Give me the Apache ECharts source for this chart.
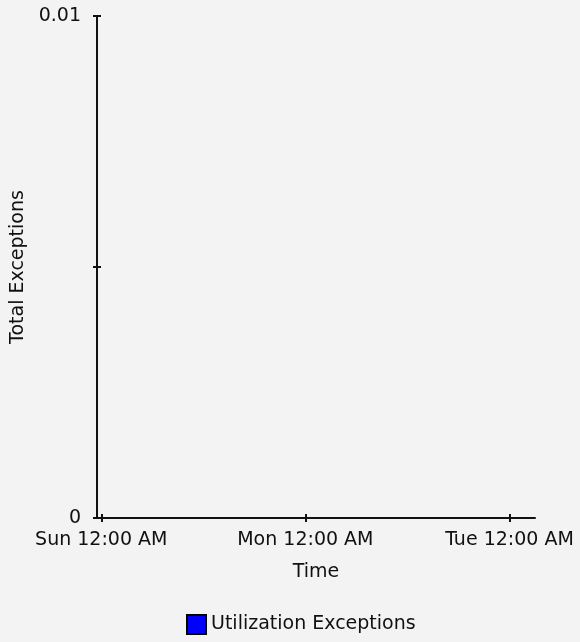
<!DOCTYPE html>
<html>
<head>
<meta charset="utf-8">
<script src="https://cdn.jsdelivr.net/npm/echarts@6/dist/echarts.min.js"></script>
<style>
  html, body { margin: 0; padding: 0; background: #f3f3f3; }
  #chart { width: 580px; height: 642px; }
</style>
</head>
<body>
<div id="chart"></div>
<script>
// x positions in hours from Sunday 12:00 AM
const tickHours = [0, 24, 48]
const tickLabels = ['Sun 12:00 AM', 'Mon 12:00 AM', 'Tue 12:00 AM']
const yTicks = [0, 0.005, 0.01]
const yLabels = [0, 0.01]
// no exceptions recorded in the period
const utilizationExceptions = []

const font = 'DejaVu Sans'
const fontSize = 19
const axisColor = '#111'

const xBase = {
  type: 'value',
  min: -0.5,
  max: 51,
  splitLine: { show: false }
}
const yBase = {
  type: 'value',
  min: 0,
  max: 0.01,
  splitLine: { show: false }
}

const option = {
  backgroundColor: '#f3f3f3',
  animation: false,
  grid: { left: 97, top: 16, right: 45, bottom: 124 },
  legend: {
    bottom: 2,
    left: 181,
    icon: 'rect',
    itemWidth: 19,
    itemHeight: 19,
    itemGap: 6,
    selectedMode: false,
    textStyle: { fontFamily: font, fontSize: fontSize, color: '#111' },
    data: ['Utilization Exceptions']
  },
  xAxis: [
    Object.assign({}, xBase, {
      position: 'bottom',
      name: 'Time',
      nameLocation: 'middle',
      nameGap: 45,
      nameTextStyle: { fontFamily: font, fontSize: fontSize, color: '#111' },
      axisLine: { show: true, onZero: false, lineStyle: { color: axisColor, width: 2 } },
      axisTick: { show: false },
      axisLabel: {
        customValues: tickHours,
        margin: 13,
        fontFamily: font,
        fontSize: fontSize,
        color: '#111',
        formatter: v => tickLabels[tickHours.indexOf(v)]
      }
    }),
    // tick marks that cross the axis line
    Object.assign({}, xBase, {
      position: 'bottom',
      offset: 4,
      axisLine: { show: false, onZero: false },
      axisTick: { show: true, inside: true, length: 8, customValues: tickHours, lineStyle: { color: axisColor, width: 2 } },
      axisLabel: { show: false }
    })
  ],
  yAxis: [
    Object.assign({}, yBase, {
      position: 'left',
      name: 'Total Exceptions',
      nameLocation: 'middle',
      nameGap: 64,
      nameTextStyle: { fontFamily: font, fontSize: fontSize, color: '#111' },
      axisLine: { show: true, onZero: false, lineStyle: { color: axisColor, width: 2 } },
      axisTick: { show: false },
      axisLabel: {
        customValues: yLabels,
        margin: 16,
        fontFamily: font,
        fontSize: fontSize,
        color: '#111',
        formatter: v => String(v)
      }
    }),
    Object.assign({}, yBase, {
      position: 'left',
      offset: 4,
      axisLine: { show: false, onZero: false },
      axisTick: { show: true, inside: true, length: 8, customValues: yTicks, lineStyle: { color: axisColor, width: 2 } },
      axisLabel: { show: false }
    })
  ],
  series: [
    {
      name: 'Utilization Exceptions',
      type: 'line',
      xAxisIndex: 0,
      yAxisIndex: 0,
      data: utilizationExceptions,
      color: '#0000ff',
      itemStyle: { color: '#0000ff', borderColor: '#000', borderWidth: 1 }
    }
  ]
}

const chart = echarts.init(document.getElementById('chart'))
chart.setOption(option)
window.addEventListener('resize', () => chart.resize())
</script>
</body>
</html>
